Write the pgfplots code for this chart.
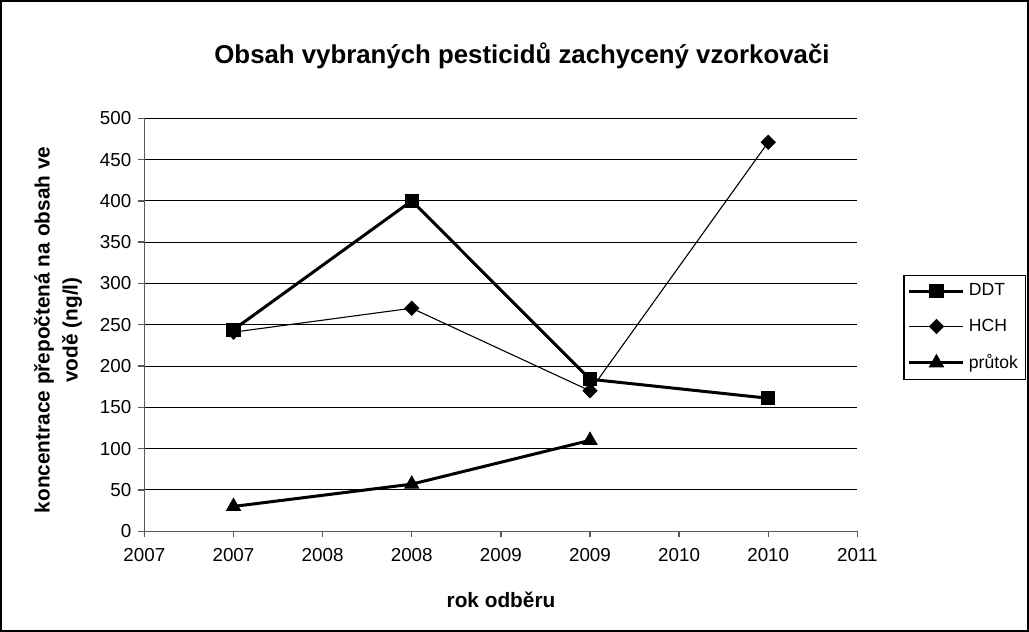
\documentclass[border=0pt]{standalone}
\usepackage{pgfplots}
\pgfplotsset{compat=1.18}
\usepackage{fontspec}
\setmainfont{Liberation Sans}
\begin{document}
\begin{tikzpicture}[x=0.5pt,y=0.5pt]
\useasboundingbox (0,0) rectangle (1029,632);
\draw[black, line width=0.6pt] (1,1) rectangle (1028,631);
\begin{axis}[
  scale only axis,
  width=356.5pt, height=206.5pt,
  at={(162,122)}, anchor=south west,
  xmin=0, xmax=8, ymin=0, ymax=500,
  xtick={0,...,8},
  xticklabels={2007,2007,2008,2008,2009,2009,2010,2010,2011},
  ytick={0,50,...,500},
  axis x line*=bottom, axis y line*=left,
  axis line style={gray!70!black, line width=0.7pt, -},
  tick style={gray!70!black, line width=0.7pt},
  tick align=outside, major tick length=3pt,
  ymajorgrids, grid style={black, line width=0.5pt},
  ticklabel style={font=\fontsize{9.4}{10}\selectfont},
  /pgf/number format/assume math mode=true,
  yticklabel style={xshift=0pt},
  xticklabel style={yshift=-2pt},
  clip=false,
  legend style={at={(rel axis cs:1.0645,0.62)}, anchor=north west,
    draw=black, line width=0.6pt, font=\fontsize{8.8}{10}\selectfont,
    row sep=6pt, inner xsep=2pt, inner ysep=2pt},
  legend cell align=left,
  legend image code/.code={
    \draw[#1] (0pt,0pt) -- (27pt,0pt);
    \draw[#1] plot coordinates {(13.5pt,0pt)};
  },
]
\addplot[black, line width=1.5pt, mark=square*, mark size=3.3pt, mark options={solid, line width=0.5pt}]
  coordinates {(1,244) (3,400) (5,184) (7,161)};
\addlegendentry{DDT}
\addplot[black, line width=0.55pt, mark=square*, mark size=2.5pt, mark options={solid, line width=0.4pt, rotate=45}]
  coordinates {(1,241) (3,270) (5,170) (7,471)};
\addlegendentry{HCH}
\addplot[black, line width=1.5pt, mark=triangle*, mark size=4pt, mark options={solid, line width=0.5pt}]
  coordinates {(1,30) (3,57) (5,110)};
\addlegendentry{průtok}
\end{axis}
\node[font=\fontsize{12.9}{15}\selectfont\bfseries] at (522,576) {Obsah vybraných pesticidů zachycený vzorkovači};
\node[font=\fontsize{10.4}{14}\selectfont\bfseries, rotate=90, align=center] at (58,302) {koncentrace přepočtená na obsah ve\\vodě (ng/l)};
\node[font=\fontsize{10.4}{12}\selectfont\bfseries] at (501,32) {rok odběru};
\end{tikzpicture}
\end{document}
